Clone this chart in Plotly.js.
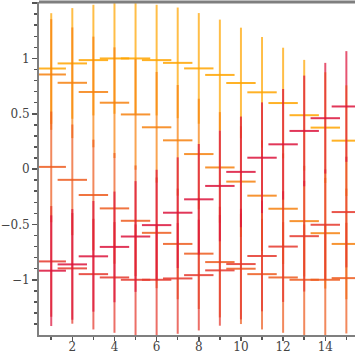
<!DOCTYPE html>
<html>
<head>
<meta charset="utf-8">
<script src="https://cdn.plot.ly/plotly-3.0.1.min.js"></script>
<style>html,body{margin:0;padding:0;overflow:hidden;background:#fff}#chart{width:355px;height:355px}</style>
</head>
<body>
<div id="chart"></div>
<script>
const xs = [1,2,3,4,5,6,7,8,9,10,11,12,13,14,15];
const seriesA = [0.909, 0.955, 0.985, 1.0, 1.0, 0.985, 0.96, 0.91, 0.851, 0.778, 0.694, 0.597, 0.487, 0.375, 0.257];
const seriesB = [0.855, 0.78, 0.697, 0.6, 0.494, 0.378, 0.26, 0.136, 0.015, -0.113, -0.24, -0.358, -0.47, -0.579, -0.676];
const seriesC = [0.02, -0.097, -0.234, -0.355, -0.467, -0.576, -0.676, -0.764, -0.84, -0.9, -0.949, -0.979, -1.0, -1.0, -0.985];
const seriesD = [-0.834, -0.897, -0.949, -0.979, -1.0, -1.0, -0.988, -0.958, -0.915, -0.858, -0.785, -0.7, -0.606, -0.503, -0.388];
const seriesE = [-0.918, -0.861, -0.788, -0.703, -0.609, -0.506, -0.394, -0.273, -0.152, -0.025, 0.103, 0.224, 0.345, 0.46, 0.566];
const errorSize = [0.5, 0.5, 0.5, 0.5, 0.5, 0.5, 0.5, 0.5, 0.5, 0.5, 0.5, 0.5, 0.5, 0.5, 0.5];
const allSeries = [seriesA, seriesB, seriesC, seriesD, seriesE];
const colors = [[255,165,0],[246,129,15],[237,92,30],[229,56,45],[220,20,60]];

const traces = allSeries.map((ys, i) => {
  const c = colors[i];
  const mk = 'rgba(' + c.join(',') + ',0.85)';
  const eb = 'rgba(' + c.join(',') + ',0.72)';
  return {
    type: 'scatter', mode: 'markers', x: xs, y: ys,
    marker: {symbol: 'line-ew', size: 21, color: mk, line: {width: 2, color: mk}},
    error_y: {type: 'data', array: errorSize, visible: true, color: eb, thickness: 2, width: 0},
    showlegend: false, hoverinfo: 'skip'
  };
});

const axisFont = {family: '"DejaVu Serif", "Liberation Serif", serif', size: 12, color: '#444'};
const layout = {
  width: 355, height: 355,
  margin: {l: 39, r: 0, t: 2, b: 20, pad: 0},
  paper_bgcolor: '#fff', plot_bgcolor: '#fff',
  showlegend: false,
  shapes: [{type: 'line', xref: 'paper', yref: 'paper', x0: 0, x1: 1.01, y0: 1, y1: 1,
            line: {color: '#7f7f7f', width: 3}, layer: 'above'}],
  xaxis: {
    range: [0.42, 15.41], dtick: 2, tick0: 0,
    showgrid: false, zeroline: false,
    showline: true, linecolor: '#7f7f7f', linewidth: 2, mirror: false,
    ticks: 'outside', ticklen: 4, tickwidth: 1.5, tickcolor: '#555',
    ticklabelstandoff: -4,
    minor: {dtick: 1, ticks: 'outside', ticklen: 3, tickwidth: 1.5, tickcolor: '#555', showgrid: false},
    tickfont: axisFont
  },
  yaxis: {
    range: [-1.499, 1.51], dtick: 0.5, tick0: 0,
    showgrid: false, zeroline: false,
    showline: true, linecolor: '#7f7f7f', linewidth: 2, mirror: false,
    ticks: 'outside', ticklen: 5, tickwidth: 1.5, tickcolor: '#555',
    minor: {dtick: 0.1, ticks: 'outside', ticklen: 3, tickwidth: 1.5, tickcolor: '#555', showgrid: false},
    tickfont: axisFont
  }
};

Plotly.newPlot('chart', traces, layout, {staticPlot: true, displayModeBar: false});
</script>
</body>
</html>
